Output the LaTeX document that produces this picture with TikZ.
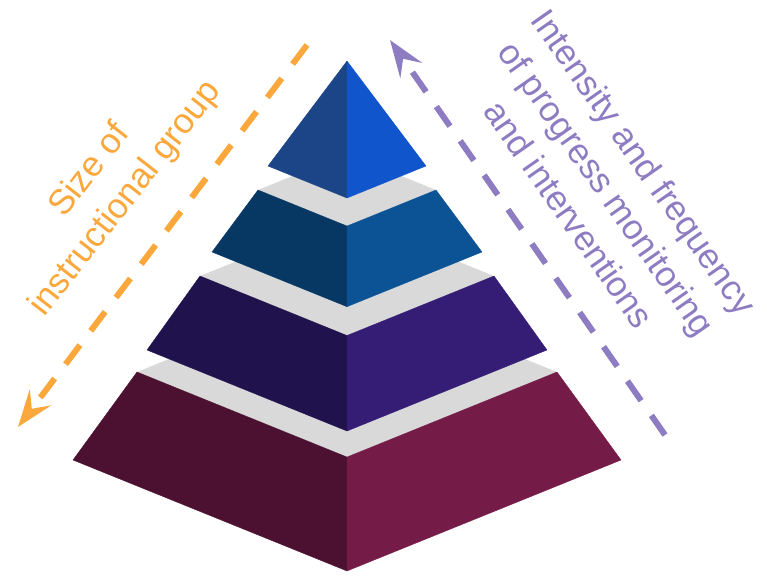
\documentclass[tikz,border=0pt]{standalone}
\usepackage{fontspec}
\setmainfont{Liberation Sans}
\usetikzlibrary{arrows.meta}
\definecolor{gapgray}{HTML}{D9D9D9}
\definecolor{sizeorange}{RGB}{250,168,60}
\definecolor{intpurple}{RGB}{142,124,195}
\definecolor{topleft}{HTML}{1C4587}
\definecolor{topright}{HTML}{1155CC}
\definecolor{secondleft}{HTML}{073763}
\definecolor{secondright}{HTML}{0B5394}
\definecolor{thirdleft}{HTML}{20124D}
\definecolor{thirdright}{HTML}{351C75}
\definecolor{baseleft}{HTML}{4C1130}
\definecolor{baseright}{HTML}{741B47}
\tikzset{tierface/.style={fill=#1, draw=#1, line width=0.2pt, line join=round},
  gapface/.style={fill=gapgray},
  trend/.style={line width=3.4pt, dash pattern=on 13.6pt off 10.2pt,
    -{Stealth[length=21pt, width=15pt, inset=8pt]}},
  trendlabel/.style={align=center, font=\fontsize{20}{26}\selectfont}}

\begin{document}
\begin{tikzpicture}[x=0.02cm, y=-0.02cm]
  \useasboundingbox (0,0) rectangle (767,575);
  \foreach \wt/\yt/\wb/\yb/\cl/\cr in {210/372/274/460/baseleft/baseright,
      147/276/200/350/thirdleft/thirdright,
      89/190/135/252/secondleft/secondright,
      0/61/79/166/topleft/topright}{
    \fill[gapface] ({347-\wt},\yt) -- (347,{\yt-0.405*\wt}) -- ({347+\wt},\yt)
      -- (347,{\yt+0.405*\wt}) -- cycle;
    \filldraw[tierface=\cl] ({347-\wt},\yt) -- (347,{\yt+0.405*\wt})
      -- (347,{\yb+0.405*\wb}) -- ({347-\wb},\yb) -- cycle;
    \filldraw[tierface=\cr] ({347+\wt},\yt) -- (347,{\yt+0.405*\wt})
      -- (347,{\yb+0.405*\wb}) -- ({347+\wb},\yb) -- cycle;
  }
  \coordinate (sizestart) at (307,45);
  \coordinate (sizeend) at (18,427);
  \coordinate (intstart) at (665,435);
  \coordinate (intend) at (390,40);
  \draw[trend, sizeorange] (sizestart) -- (sizeend);
  \draw[trend, intpurple] (intstart) -- (intend);
  \node[trendlabel, sizeorange, rotate=52] (sizetext) at (108,185)
    {Size of\\instructional group};
  \node[trendlabel, intpurple, rotate=-55] (inttext) at (607,188)
    {Intensity and frequency\\of progress monitoring\\and interventions};
\end{tikzpicture}
\end{document}
